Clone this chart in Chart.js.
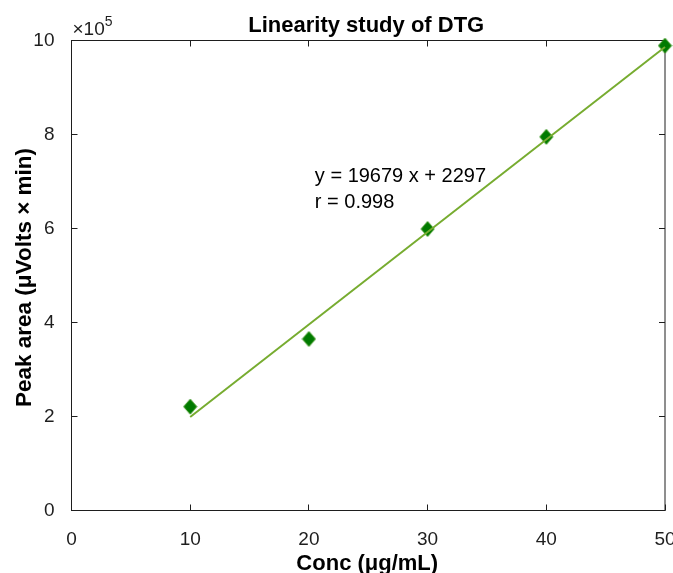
<!DOCTYPE html>
<html>
<head>
<meta charset="utf-8">
<script src="https://cdn.jsdelivr.net/npm/chart.js@4"></script>
<style>
  html, body { margin: 0; padding: 0; background: #fff; }
</style>
</head>
<body>
<canvas id="linearity" width="673" height="573"></canvas>
<script>
// data
const conc = [10, 20, 30, 40, 50];
const peakArea = [221000, 365000, 599000, 795000, 989000];
// fitted line end points (y = 19679 x + 2297)
const fitX = [10, 50];
const fitY = [199087, 986247];
const xTicks = [0, 10, 20, 30, 40, 50];
const yTicks = [0, 2, 4, 6, 8, 10];
const yExponent = 5;
const fitText = ["y = 19679 x + 2297", "r = 0.998"];

const FONT = "'Liberation Sans', Arial, Helvetica, sans-serif";
const AXIS_COLOR = "#1e1e1e";

// diamond marker, a bit taller than wide like the matlab one
const diamond = document.createElement("canvas");
diamond.width = 15;
diamond.height = 17;
(function () {
  const c = diamond.getContext("2d");
  c.beginPath();
  c.moveTo(7.5, 1);
  c.lineTo(14, 8.5);
  c.lineTo(7.5, 16);
  c.lineTo(1, 8.5);
  c.closePath();
  c.fillStyle = "#007a00";
  c.fill();
  c.strokeStyle = "#2f8f12";
  c.lineWidth = 1;
  c.stroke();
})();

// box, inward ticks and all the titles
const frame = {
  id: "frame",
  beforeDatasetsDraw(chart) {
    const { ctx, chartArea: { left, top, right, bottom }, scales: { x, y } } = chart;
    ctx.save();
    ctx.strokeStyle = AXIS_COLOR;
    ctx.lineWidth = 1;
    ctx.strokeRect(left, top, right - left, bottom - top);
    ctx.beginPath();
    xTicks.forEach(v => {
      const px = Math.floor(x.getPixelForValue(v)) + 0.5;
      ctx.moveTo(px, bottom); ctx.lineTo(px, bottom - 6);
      ctx.moveTo(px, top); ctx.lineTo(px, top + 6);
    });
    yTicks.forEach(v => {
      const py = Math.floor(y.getPixelForValue(v * Math.pow(10, yExponent))) + 0.5;
      ctx.moveTo(left, py); ctx.lineTo(left + 6, py);
      ctx.moveTo(right, py); ctx.lineTo(right - 6, py);
    });
    ctx.stroke();
    ctx.restore();
  },
  afterDraw(chart) {
    const { ctx, chartArea: { left, top, right, bottom }, scales: { x, y } } = chart;
    ctx.save();
    ctx.fillStyle = "#000";
    ctx.textBaseline = "alphabetic";

    // main title
    ctx.font = "bold 22px " + FONT;
    ctx.textAlign = "center";
    ctx.fillText("Linearity study of DTG", (left + right) / 2 - 2, 32);

    // x title
    ctx.fillText("Conc (μg/mL)", (left + right) / 2 - 1, 570);

    // y title
    ctx.save();
    ctx.translate(31, (top + bottom) / 2 + 2);
    ctx.rotate(-Math.PI / 2);
    ctx.font = "bold 22.5px " + FONT;
    ctx.fillText("Peak area (μVolts × min)", 0, 0);
    ctx.restore();

    // exponent
    ctx.fillStyle = AXIS_COLOR;
    ctx.textAlign = "left";
    ctx.font = "19px " + FONT;
    ctx.fillText("×10", left + 1, 35);
    const w = ctx.measureText("×10").width;
    ctx.font = "14px " + FONT;
    ctx.fillText(String(yExponent), left + 1 + w, 26);

    // fit equation
    ctx.fillStyle = "#000";
    ctx.font = "20px " + FONT;
    const tx = x.getPixelForValue(20.5);
    const ty = y.getPixelForValue(714000) + 7;
    ctx.fillText(fitText[0], tx, ty);
    ctx.fillText(fitText[1], tx, ty + 26);
    ctx.restore();
  }
};

const pointData = conc.map((c, i) => ({ x: c, y: peakArea[i] }));
const lineData = fitX.map((c, i) => ({ x: c, y: fitY[i] }));

const linearityChart = new Chart(document.getElementById("linearity"), {
  type: "scatter",
  data: {
    datasets: [
      {
        label: "fit",
        data: lineData,
        showLine: true,
        borderColor: "#77AC30",
        borderWidth: 2,
        pointRadius: 0,
        order: 1,
        clip: false
      },
      {
        label: "DTG",
        data: pointData,
        pointStyle: diamond,
        pointRadius: 7,
        order: 2,
        clip: false
      }
    ]
  },
  options: {
    responsive: false,
    devicePixelRatio: 1,
    animation: false,
    layout: { padding: { top: 40.5, right: 7.5, left: 0, bottom: 0 } },
    plugins: {
      legend: { display: false },
      tooltip: { enabled: false }
    },
    scales: {
      x: {
        type: "linear",
        min: 0,
        max: 50,
        afterBuildTicks: s => { s.ticks = xTicks.map(v => ({ value: v })); },
        afterFit: s => { s.height = 62.5; s.paddingLeft = 0; s.paddingRight = 0; },
        grid: { display: false },
        border: { display: false },
        ticks: {
          padding: 10,
          color: AXIS_COLOR,
          font: { family: FONT, size: 19 },
          maxRotation: 0
        }
      },
      y: {
        type: "linear",
        min: 0,
        max: 10 * Math.pow(10, yExponent),
        afterBuildTicks: s => { s.ticks = yTicks.map(v => ({ value: v * Math.pow(10, yExponent) })); },
        afterFit: s => { s.width = 71.5; s.paddingTop = 0; s.paddingBottom = 0; },
        grid: { display: false },
        border: { display: false },
        ticks: {
          padding: 9,
          color: AXIS_COLOR,
          font: { family: FONT, size: 19 },
          callback: v => String(Math.round(v / Math.pow(10, yExponent)))
        }
      }
    }
  },
  plugins: [frame]
});
</script>
</body>
</html>
